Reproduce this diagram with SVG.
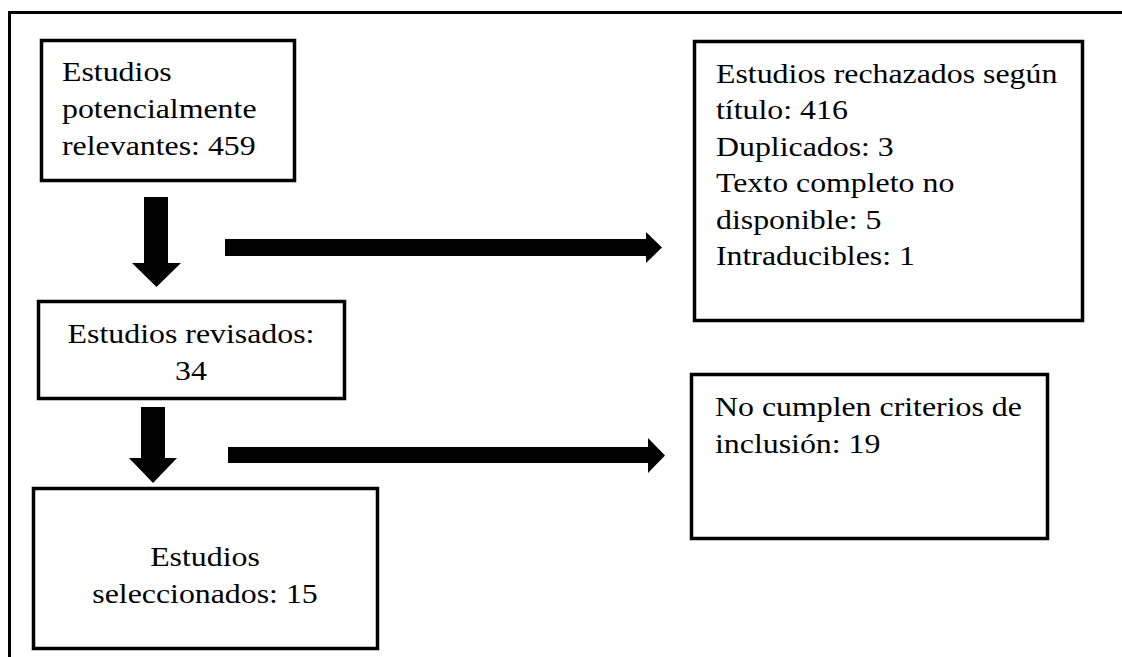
<svg xmlns="http://www.w3.org/2000/svg" width="1122" height="657" viewBox="0 0 1122 657">
<style>
.box{fill:#fff;stroke:#000;stroke-width:3.5}
.t{font-family:"Liberation Serif","Times New Roman",serif;font-size:27px;fill:#000}
.c{text-anchor:middle}
.arr{fill:#000}
</style>
<rect width="1122" height="657" fill="#fff"/>
<path d="M9.5 657 L9.5 12.5 L1122 12.5" fill="none" stroke="#000" stroke-width="3"/>
<g id="connectors">
<polygon class="arr" points="144,197 168,197 168,263 181,263 156.5,287 132,263 144,263"/>
<polygon class="arr" points="141,407 165,407 165,458 177,458 153,483 129,458 141,458"/>
<polygon class="arr" points="225,239 646,239 646,232 662,247.5 646,263 646,256 225,256"/>
<polygon class="arr" points="228,447 648,447 648,438 665,455.5 648,473 648,463 228,463"/>
</g>
<g id="n1">
<rect class="box" x="41.5" y="40.5" width="253" height="140"/>
<g transform="translate(62,0) scale(1.18,1)"><text class="t" x="0" y="81">Estudios</text><text class="t" x="0" y="118">potencialmente</text><text class="t" x="0" y="155">relevantes: 459</text></g>
</g>
<g id="n2">
<rect class="box" x="38.5" y="301.5" width="306" height="97"/>
<g transform="translate(191,0) scale(1.18,1)"><text class="t c" x="0" y="343">Estudios revisados:</text><text class="t c" x="0" y="380">34</text></g>
</g>
<g id="n3">
<rect class="box" x="33.5" y="488.5" width="344" height="160"/>
<g transform="translate(205,0) scale(1.18,1)"><text class="t c" x="0" y="566">Estudios</text><text class="t c" x="0" y="603">seleccionados: 15</text></g>
</g>
<g id="n4">
<rect class="box" x="694.5" y="41.5" width="388" height="279"/>
<g transform="translate(716,0) scale(1.18,1)"><text class="t" x="0" y="83">Estudios rechazados según</text><text class="t" x="0" y="119.5">título: 416</text><text class="t" x="0" y="156">Duplicados: 3</text><text class="t" x="0" y="192.5">Texto completo no</text><text class="t" x="0" y="229">disponible: 5</text><text class="t" x="0" y="265.5">Intraducibles: 1</text></g>
</g>
<g id="n5">
<rect class="box" x="691.5" y="374.5" width="356" height="164"/>
<g transform="translate(715,0) scale(1.18,1)"><text class="t" x="0" y="416">No cumplen criterios de</text><text class="t" x="0" y="453">inclusión: 19</text></g>
</g>
</svg>
